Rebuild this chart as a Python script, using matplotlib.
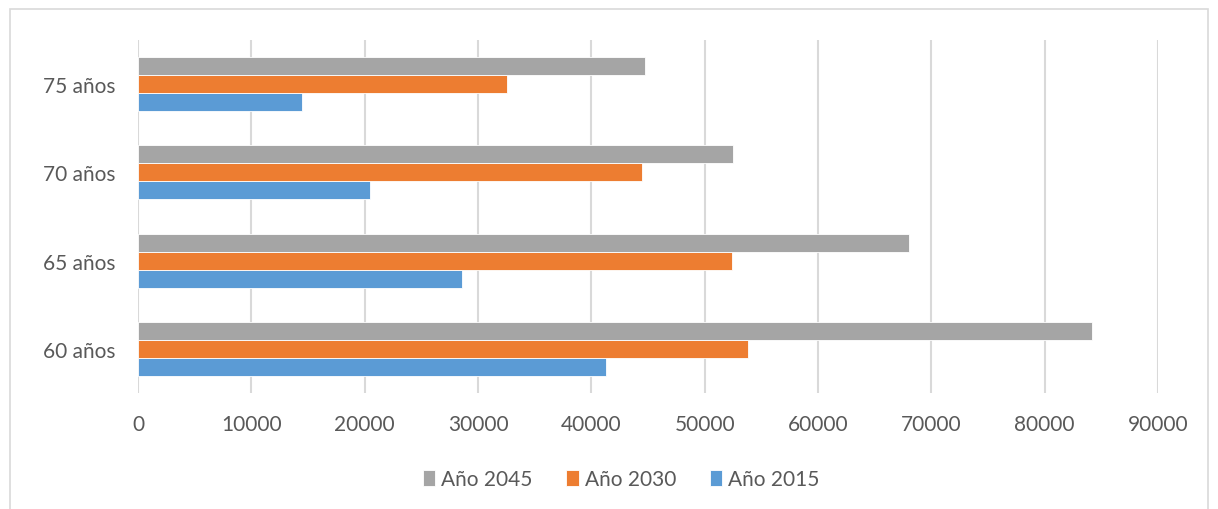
import matplotlib.pyplot as plt
import numpy as np
from matplotlib.patches import Rectangle

# data
categories = ["60 años", "65 años", "70 años", "75 años"]
anio_2015 = [41300, 28600, 20500, 14500]
anio_2030 = [53800, 52400, 44500, 32600]
anio_2045 = [84200, 68000, 52500, 44700]
xticks = [0, 10000, 20000, 30000, 40000, 50000, 60000, 70000, 80000, 90000]

plt.rcParams['font.family'] = ['Lato', 'DejaVu Sans']

fig = plt.figure(figsize=(12.18, 5.1), dpi=100)
ax = fig.add_axes([0.1133, 0.2267, 0.8374, 0.6937])

y = np.arange(len(categories))
h = 0.203
b1 = ax.barh(y - h, anio_2015, height=h, color='#5B9BD5', edgecolor='white', linewidth=0.6, label='Año 2015', zorder=3)
b2 = ax.barh(y, anio_2030, height=h, color='#ED7D31', edgecolor='white', linewidth=0.6, label='Año 2030', zorder=3)
b3 = ax.barh(y + h, anio_2045, height=h, color='#A5A5A5', edgecolor='white', linewidth=0.6, label='Año 2045', zorder=3)

ax.set_xlim(0, 90000)
ax.set_ylim(-0.5, len(categories) - 0.5)
ax.set_xticks(xticks)
ax.set_xticklabels([str(t) for t in xticks])
ax.set_yticks(y)
ax.set_yticklabels(categories)
ax.tick_params(axis='both', length=0, labelsize=15, colors='#595959')
ax.tick_params(axis='x', pad=15)
ax.tick_params(axis='y', pad=16)
ax.grid(axis='x', color='#D9D9D9', linewidth=1.5, zorder=0)
for s in ax.spines.values():
    s.set_visible(False)

fig.legend(handles=[b3, b2, b1], loc='center', bbox_to_anchor=(0.51, 0.059), ncol=3,
           frameon=False, fontsize=15, handlelength=0.6, handleheight=0.8,
           handletextpad=0.3, columnspacing=1.6, labelcolor='#595959')

# chart area border
fig.patches.append(Rectangle((10 / 1218, -0.1), 1198 / 1218, 1.1 - 10 / 510, transform=fig.transFigure,
                             fill=False, edgecolor='#D9D9D9', linewidth=1.2))

fig.savefig("out.png", dpi=100)
